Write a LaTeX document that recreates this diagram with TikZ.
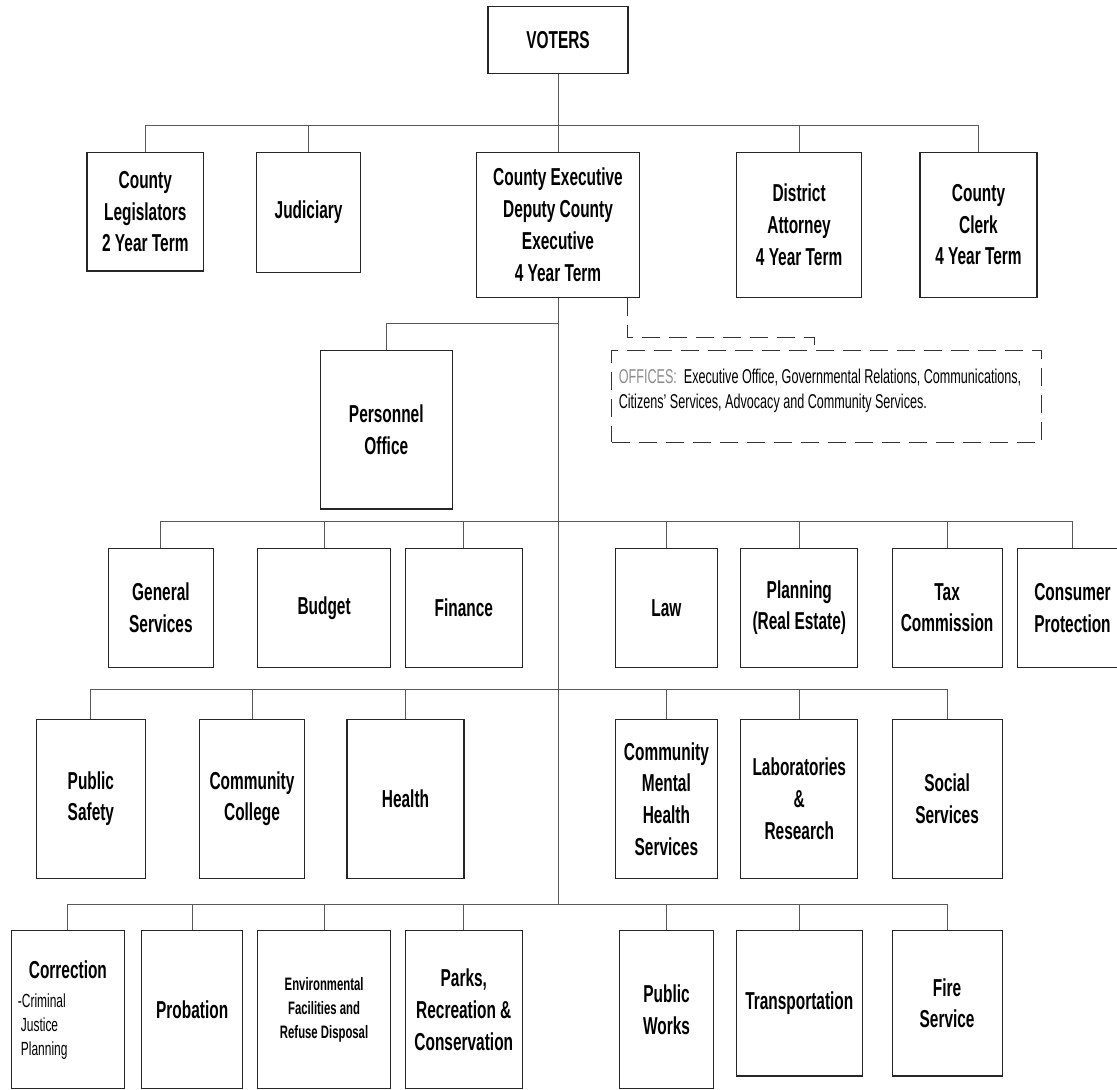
\documentclass[tikz,border=0pt]{standalone}
\usepackage{fontspec}
\setmainfont{Liberation Sans}[FakeStretch=0.63]

\begin{document}
\begin{tikzpicture}
[x=1pt,y=1pt,%
  every node/.style={shape=rectangle,draw=black!85,line width=1.1pt,inner sep=2pt,align=center,%
    font=\fontsize{24.5}{31.7}\selectfont\bfseries},%
  link/.style={draw=black!65,line width=1pt},%
  dashlink/.style={draw=black!80,line width=1pt,dash pattern=on 18pt off 9pt}]
\useasboundingbox (0,0) rectangle (1117,1090);
\clip (0,0) rectangle (1117,1090);
\node[minimum width=140,minimum height=66.6] (voters) at (558,1050) {VOTERS};
\node[minimum width=116.6,minimum height=118.7] (legis) at (145.3,878.3) {County\\Legislators\\2 Year Term};
\node[minimum width=104.3,minimum height=120.4] (judic) at (308.6,877.5) {Judiciary};
\node[minimum width=163.6,minimum height=145] (cexec) at (558,865.2) {County Executive\\Deputy County\\Executive\\4 Year Term};
\node[minimum width=125.4,minimum height=145] (distatt) at (799.1,865.2) {District\\Attorney\\4 Year Term};
\node[minimum width=117,minimum height=145] (clerk) at (978.5,865.2) {County\\Clerk\\4 Year Term};
\node[minimum width=132.5,minimum height=158.3] (personnel) at (386.3,660.1) {Personnel\\Office};
\node[dashlink,inner sep=7pt,font=\fontsize{20}{25}\selectfont] (offices) at (826.6,693.5)
  {\parbox[c][77.6pt][t]{415.6pt}{\raggedright\vspace*{11pt}%
    {\color{black!45}OFFICES:}\ \ Executive Office, Governmental Relations, Communications,\\
    Citizens' Services, Advocacy and Community Services.}};
\node[minimum width=105.4,minimum height=119] (gensvc) at (160.9,482.2) {General\\Services};
\node[minimum width=132.5,minimum height=119] (budget) at (324.1,482.2) {Budget};
\node[minimum width=116.7,minimum height=119] (finance) at (463.8,482.2) {Finance};
\node[minimum width=102.1,minimum height=119] (law) at (666.4,482.2) {Law};
\node[minimum width=117.2,minimum height=119] (planning) at (799.3,482.2) {Planning\\(Real Estate)};
\node[minimum width=110,minimum height=119] (taxcom) at (947.1,482.2) {Tax\\Commission};
\node[minimum width=109.2,minimum height=119] (consumer) at (1072.5,482.2) {Consumer\\Protection};
\node[minimum width=109,minimum height=159] (pubsafe) at (90.9,291.2) {Public\\Safety};
\node[minimum width=105.3,minimum height=159] (college) at (252,291.2) {Community\\College};
\node[minimum width=117,minimum height=159] (health) at (405.5,291.2) {Health};
\node[minimum width=102.1,minimum height=159] (cmhs) at (666.4,291.2) {Community\\Mental\\Health\\Services};
\node[minimum width=117.2,minimum height=159] (labs) at (799.3,291.2) {Laboratories\\\&\\Research};
\node[minimum width=110,minimum height=159] (socsvc) at (947.1,291.2) {Social\\Services};
\node[minimum width=112.9,minimum height=158.3] (correction) at (67.9,80.2)
  {Correction\\[-3pt]\parbox[t]{100pt}{\raggedright\fontsize{19}{24}\selectfont\mdseries
    -Criminal\\\hspace*{3pt}Justice\\\hspace*{3pt}Planning}};
\node[minimum width=100.7,minimum height=158.3] (probation) at (192.2,80.2) {Probation};
\node[minimum width=132.5,minimum height=158.3,font=\fontsize{18}{24}\selectfont\bfseries] (environ) at (324.1,80.2)
  {Environmental\\Facilities and\\Refuse Disposal};
\node[minimum width=116.7,minimum height=158.3] (parks) at (463.8,80.2) {Parks,\\Recreation \&\\Conservation};
\node[minimum width=94.3,minimum height=158.3] (pubworks) at (666.5,80.2) {Public\\Works};
\node[minimum width=125.7,minimum height=145.3] (transport) at (799.3,86.65) {Transportation};
\node[minimum width=110,minimum height=145.3] (fire) at (947.1,86.65) {Fire\\Service};
\coordinate (bus1) at (558,964);
\coordinate (tap1) at (558,766);
\coordinate (bus2) at (558,568);
\coordinate (bus3) at (558,400);
\coordinate (bus4) at (558,185);
\draw[link] (voters) -- (cexec);
\draw[link] (bus1) -| (legis.north) (bus1) -| (judic.north)
  (bus1) -| (distatt.north) (bus1) -| (clerk.north);
\draw[link] (cexec) -- (bus4);
\draw[link] (tap1) -| (personnel.north);
\draw[link] (bus2) -| (gensvc.north) (bus2) -| (budget.north) (bus2) -| (finance.north)
  (bus2) -| (law.north) (bus2) -| (planning.north) (bus2) -| (taxcom.north) (bus2) -| (consumer.north);
\draw[link] (bus3) -| (pubsafe.north) (bus3) -| (college.north) (bus3) -| (health.north)
  (bus3) -| (cmhs.north) (bus3) -| (labs.north) (bus3) -| (socsvc.north);
\draw[link] (bus4) -| (correction.north) (bus4) -| (probation.north) (bus4) -| (environ.north)
  (bus4) -| (parks.north) (bus4) -| (pubworks.north) (bus4) -| (transport.north) (bus4) -| (fire.north);
\draw[dashlink] ([xshift=-13pt]cexec.south east) -- ++(0,-39.4) -| ([xshift=203pt]offices.north west);
\end{tikzpicture}
\end{document}
